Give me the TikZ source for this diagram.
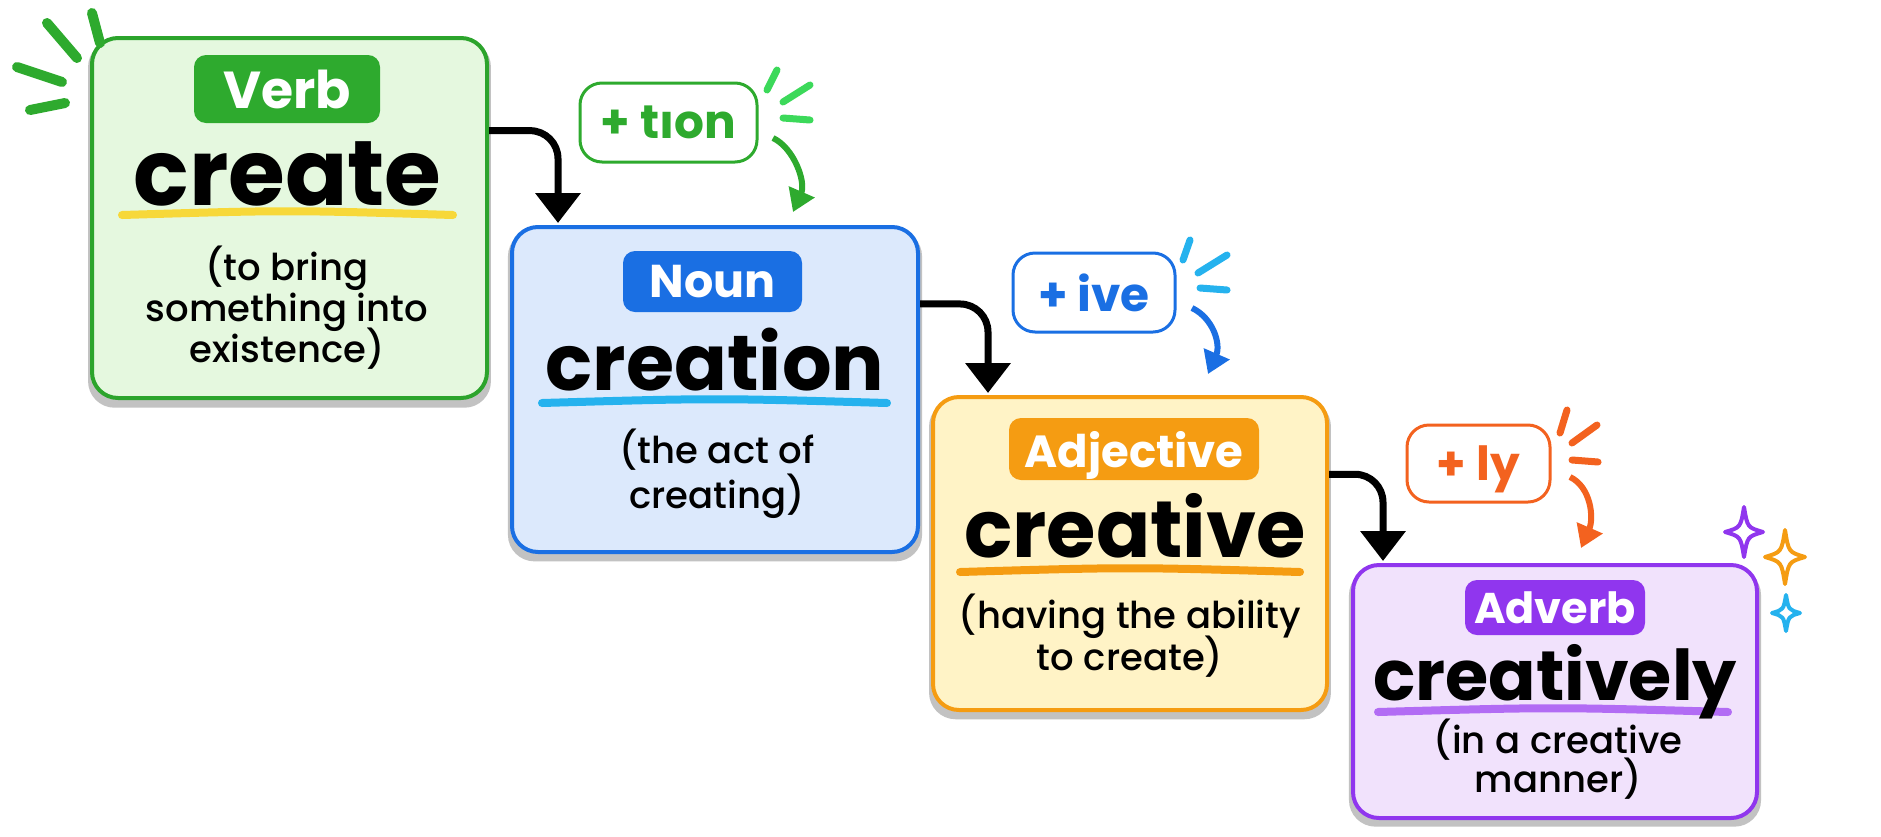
\documentclass[tikz,border=0pt]{standalone}
\usepackage{fontspec}
\setmainfont{Poppins}
\IfFontExistsTF{Poppins Medium}
        {\newfontfamily\glossfont{Poppins Medium}}
        {\newfontfamily\glossfont{Poppins}[FakeBold=0.6]}
\usetikzlibrary{arrows.meta,positioning,calc,shadows}

\definecolor{verbgreen}{HTML}{2CA42C}
\definecolor{verbfill}{HTML}{E5F8DF}
\definecolor{noungreen}{HTML}{2EAA2E}
\definecolor{sparkgreen}{HTML}{3CD95A}
\definecolor{nounblue}{HTML}{1A6FE3}
\definecolor{nounfill}{HTML}{DCE9FC}
\definecolor{skyblue}{HTML}{25B2EE}
\definecolor{adjorange}{HTML}{F59C12}
\definecolor{adjfill}{HTML}{FFF3C6}
\definecolor{lyorange}{HTML}{F3621F}
\definecolor{advpurple}{HTML}{9036EE}
\definecolor{advfill}{HTML}{F1E2FC}
\definecolor{hiyellow}{HTML}{F7D83A}
\definecolor{hipurple}{HTML}{B26CF4}

\begin{document}
\begin{tikzpicture}[x=1pt, y=-1pt,
        card/.style 2 args={draw=#1, fill=#2, line width=4pt, rounded corners=26pt,
                drop shadow={shadow xshift=0pt, shadow yshift=-6pt, shadow scale=1.02, fill=black!24, opacity=1}},
        postag/.style 2 args={fill=#1, rounded corners=12pt, text=white, inner sep=0pt,
                font=\fontsize{#2}{#2}\selectfont\bfseries, text depth=0pt},
        word/.style={anchor=base, inner sep=0pt, font=\fontsize{#1}{#1}\selectfont\bfseries},
        gloss/.style={anchor=base, inner sep=0pt, font=\glossfont\fontsize{37}{42}\selectfont},
        suffix/.style={draw=#1, fill=white, text=#1, line width=3pt, rounded corners=22pt, inner sep=0pt,
                font=\fontsize{47}{47}\selectfont\bfseries, text depth=0pt},
        flow/.style={line width=7pt, rounded corners=28pt, shorten >=2pt, -{Triangle[width=44pt,length=30pt]}},
        hintarrow/.style={draw=#1, line width=6pt, -{Triangle[width=27pt,length=22pt]}},
        spark/.style={draw=#1, line width=7pt, line cap=round},
        hiline/.style={draw=#1, line width=8pt, line cap=round}]

        \path[use as bounding box, fill=white] (0, 0) rectangle (1881, 836);

        % the four word cards
        \node[card={verbgreen}{verbfill}, minimum width=395pt, minimum height=360pt] (verb) at (289.5, 218) {};
        \node[card={nounblue}{nounfill}, minimum width=406pt, minimum height=325pt] (noun) at (715, 389.5) {};
        \node[card={adjorange}{adjfill}, minimum width=394pt, minimum height=313pt] (adj) at (1130, 553.5) {};
        \node[card={advpurple}{advfill}, minimum width=404pt, minimum height=253pt] (adv) at (1555, 691.5) {};

        % word class tags
        \node[postag={noungreen}{52}, minimum width=186pt, minimum height=68pt] (verbtag) at (287, 89) {Verb};
        \node[postag={nounblue}{46}, minimum width=179pt, minimum height=61pt] (nountag) at (712.5, 281.5) {Noun};
        \node[postag={adjorange}{45}, minimum width=250pt, minimum height=62pt] (adjtag) at (1134, 449) {Adjective};
        \node[postag={advpurple}{43}, minimum width=180pt, minimum height=55pt] (advtag) at (1555, 607.5) {Adverb};

        % highlight strokes under the words
        \foreach \xa/\xb/\y/\col in {122/453/215/hiyellow, 542/887/403/skyblue,
                960/1300/572/adjorange, 1378/1728/712/hipurple}
                \draw[hiline=\col] (\xa, \y) .. controls ({(\xa+\xb)/2}, \y-5) .. (\xb, \y);

        \node[word=92] (verbword) at (287.5, 205) {create};
        \node[word=78] (nounword) at (715, 390) {creation};
        \node[word=80] (adjword) at (1135, 557) {creative};
        \node[word=70] (advword) at (1555, 700) {creatively};

        \foreach \x/\y/\txt [count=\i] in {287/280/{(to bring}, 287/321/{something into}, 287/362/{existence)},
                717/463/{(the act of}, 717/508/{creating)},
                1130/628/{(having the ability}, 1130/670/{to create)},
                1558/753/{(in a creative}, 1558/792/{manner)}}
                \node[gloss] (gloss\i) at (\x, \y) {\txt};

        % steps between the cards
        \draw[flow] ($(verb.north east)!.26!(verb.south east)$) -| ([xshift=48pt]noun.north west);
        \draw[flow] ($(noun.north east)!.24!(noun.south east)$) -| ([xshift=57pt]adj.north west);
        \draw[flow] ($(adj.north east)!.25!(adj.south east)$) -| ([xshift=32pt]adv.north west);

        % suffixes
        \node[suffix=noungreen, minimum width=177pt, minimum height=79pt] (tion) at (668.5, 122.5) {+ tıon};
        \node[suffix=nounblue, minimum width=162pt, minimum height=79pt] (ive) at (1094, 292.5) {+ ive};
        \node[suffix=lyorange, minimum width=143pt, minimum height=77pt] (ly) at (1478.5, 463.5) {+ ly};

        \coordinate (tionfrom) at (773, 138);
        \coordinate (tionto) at (793, 212);
        \coordinate (ivefrom) at (1192, 308);
        \coordinate (iveto) at (1208, 374);
        \coordinate (lyfrom) at (1570, 477);
        \coordinate (lyto) at (1581, 548);
        \foreach \name/\col in {tion/noungreen, ive/nounblue, ly/lyorange}
                \draw[hintarrow=\col] (\name from) .. controls +(21, 10) and +(13, -30) .. (\name to);

        % little bursts
        \foreach \ax/\ay/\bx/\by in {47/23/77/58, 92/13/100/43, 17/67/62/82, 30/110/65/103}
                \draw[spark=noungreen, line width=10pt] (\ax, \ay) -- (\bx, \by);
        \foreach \ax/\ay/\bx/\by/\col in {767/90/777/70/sparkgreen, 783/102/810/85/sparkgreen, 783/118/810/120/sparkgreen,
                1183/260/1190/240/skyblue, 1198/273/1227/255/skyblue, 1200/288/1227/290/skyblue,
                1560/433/1567/410/lyorange, 1572/443/1597/425/lyorange, 1572/460/1598/462/lyorange}
                \draw[spark=\col] (\ax, \ay) -- (\bx, \by);

        % sparkles
        \foreach \cx/\cy/\w/\h/\col in {1744/532/19/25/advpurple, 1785/557/20/27/adjorange, 1786/613/14/18/skyblue}
                \draw[\col, line width=4pt, line join=round]
                        (\cx, \cy-\h) .. controls (\cx+.18*\w, \cy-.18*\h) .. (\cx+\w, \cy)
                        .. controls (\cx+.18*\w, \cy+.18*\h) .. (\cx, \cy+\h)
                        .. controls (\cx-.18*\w, \cy+.18*\h) .. (\cx-\w, \cy)
                        .. controls (\cx-.18*\w, \cy-.18*\h) .. (\cx, \cy-\h) -- cycle;
\end{tikzpicture}
\end{document}
